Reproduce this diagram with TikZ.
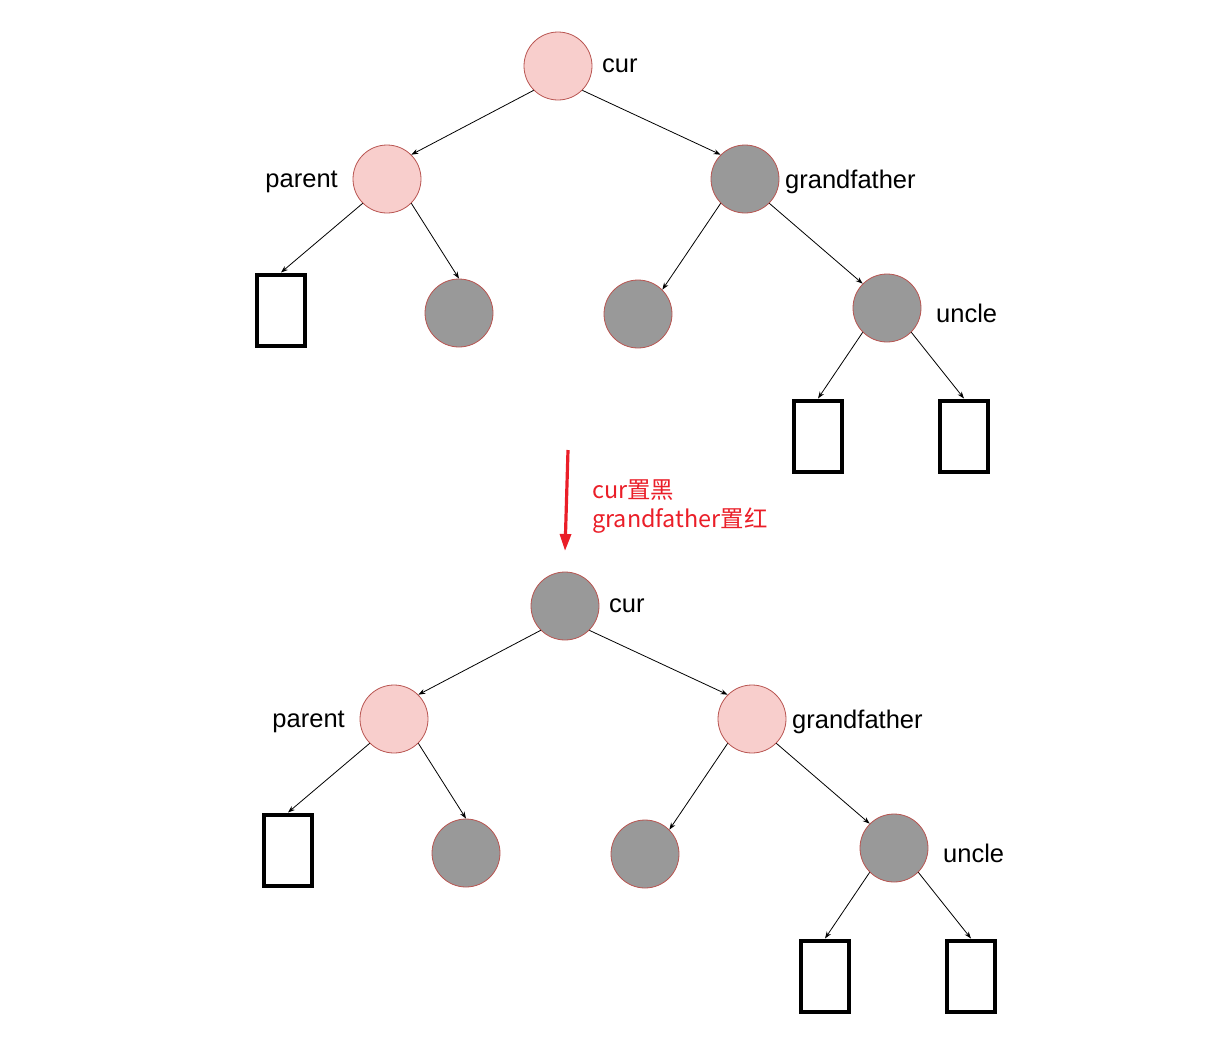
\documentclass[tikz,border=0pt]{standalone}
\usepackage{fontspec}
\setmainfont{Liberation Sans}
\newfontfamily\cjk{Noto Sans CJK SC}
\usetikzlibrary{arrows.meta}
\definecolor{pinkfill}{RGB}{248,206,204}
\definecolor{redline}{RGB}{184,84,80}
\definecolor{greyfill}{RGB}{153,153,153}
\definecolor{notered}{RGB}{234,30,40}
\tikzset{
  rbnode/.style={circle,draw=redline,line width=0.8pt,minimum size=68pt,inner sep=0pt},
  rednode/.style={rbnode,fill=pinkfill},
  blacknode/.style={rbnode,fill=greyfill},
  nilleaf/.style={draw,line width=4pt,minimum width=48pt,minimum height=71pt,inner sep=0pt},
  link/.style={-{Stealth[length=7pt,width=5pt]},line width=0.8pt},
  tag/.style={font=\fontsize{25.5}{30}\selectfont,inner sep=0pt}
}
\begin{document}
\begin{tikzpicture}[x=1pt,y=-1pt]
\useasboundingbox (0,0) rectangle (1218,1047);
% before
\node[rednode] (cur) at (558,66) {};
\node[rednode] (par) at (387,179) {};
\node[blacknode] (gf) at (745,179) {};
\node[nilleaf] (nilA) at (281,310) {};
\node[blacknode] (sib) at (459,313) {};
\node[blacknode] (gfl) at (638,314) {};
\node[blacknode] (unc) at (887,308) {};
\node[nilleaf] (nilB) at (818,436) {};
\node[nilleaf] (nilC) at (964,436) {};
\node[tag,anchor=west] (curtag) at (602,66) {cur};
\node[tag,anchor=east] (partag) at (338,182) {parent};
\node[tag,anchor=west] (gftag) at (785,182) {grandfather};
\node[tag,anchor=west] (unctag) at (936,313) {uncle};
\draw[link] (cur.south west) -- (par.north east);
\draw[link] (cur.south east) -- (gf.north west);
\draw[link] (par.south west) -- (nilA.north);
\draw[link] (par.south east) -- (sib.north);
\draw[link] (gf.south west) -- (gfl.north east);
\draw[link] (gf.south east) -- (unc.north west);
\draw[link] (unc.south west) -- (nilB.north);
\draw[link] (unc.south east) -- (nilC.north);
% recolour step
\coordinate (stepfrom) at (568,450);
\coordinate (stepto) at (565,551);
\draw[notered,line width=3.2pt,-{Triangle[length=17pt,width=11pt]}] (stepfrom) -- (stepto);
\node[anchor=west,align=left,text=notered,inner sep=0pt,
  font=\cjk\fontsize{23.4}{29}\selectfont] (note) at (592,507) {cur置黑\\grandfather置红};
% after
\begin{scope}[shift={(7,540)}]
\node[blacknode] (curb) at (558,66) {};
\node[rednode] (parb) at (387,179) {};
\node[rednode] (gfb) at (745,179) {};
\node[nilleaf] (nilAb) at (281,310) {};
\node[blacknode] (sibb) at (459,313) {};
\node[blacknode] (gflb) at (638,314) {};
\node[blacknode] (uncb) at (887,308) {};
\node[nilleaf] (nilBb) at (818,436) {};
\node[nilleaf] (nilCb) at (964,436) {};
\node[tag,anchor=west] (curtagb) at (602,66) {cur};
\node[tag,anchor=east] (partagb) at (338,182) {parent};
\node[tag,anchor=west] (gftagb) at (785,182) {grandfather};
\node[tag,anchor=west] (unctagb) at (936,313) {uncle};
\draw[link] (curb.south west) -- (parb.north east);
\draw[link] (curb.south east) -- (gfb.north west);
\draw[link] (parb.south west) -- (nilAb.north);
\draw[link] (parb.south east) -- (sibb.north);
\draw[link] (gfb.south west) -- (gflb.north east);
\draw[link] (gfb.south east) -- (uncb.north west);
\draw[link] (uncb.south west) -- (nilBb.north);
\draw[link] (uncb.south east) -- (nilCb.north);
\end{scope}
\end{tikzpicture}
\end{document}
